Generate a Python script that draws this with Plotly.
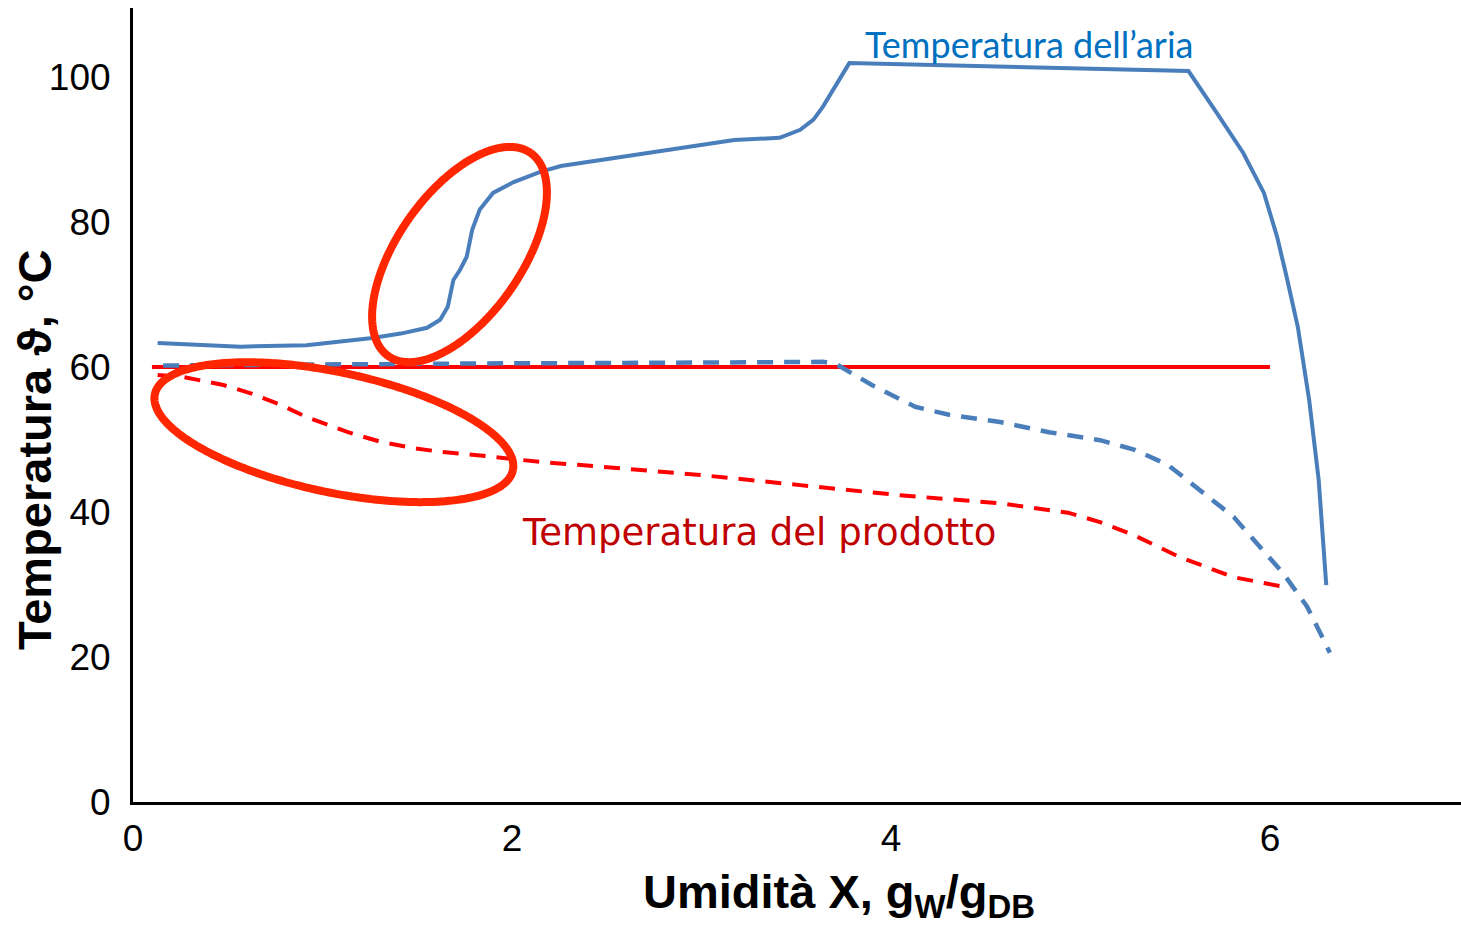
import numpy as np
import plotly.graph_objects as go

# ---- data ----
x_air = [0.13, 0.567, 0.915, 1.263, 1.413, 1.552, 1.621, 1.661, 1.691, 1.726, 1.761, 1.790,
         1.830, 1.900, 2.009, 2.149, 2.258, 2.726, 3.173, 3.412, 3.521, 3.591, 3.641, 3.780,
         5.570, 5.720, 5.859, 5.968, 6.038, 6.088, 6.147, 6.207, 6.257, 6.297]
T_air = [63.3, 62.8, 63.0, 64.0, 64.6, 65.4, 66.5, 68.3, 72.0, 73.4, 75.2, 78.9,
         81.7, 84.0, 85.5, 86.9, 87.7, 89.5, 91.3, 91.6, 92.7, 94.1, 95.9, 101.9,
         100.8, 95.0, 89.5, 84.0, 77.9, 72.4, 65.5, 55.4, 44.4, 29.9]

x_surf = [0.159, 0.995, 1.989, 2.984, 3.641, 3.710, 3.899, 4.128, 4.307, 4.576, 4.834, 5.103,
          5.282, 5.461, 5.580, 5.809, 6.068, 6.197, 6.316]
T_surf = [60.2, 60.4, 60.5, 60.6, 60.7, 60.4, 57.5, 54.5, 53.4, 52.4, 51.0, 49.9,
          48.6, 46.5, 44.1, 39.3, 31.6, 26.9, 20.6]

x_prod = [0.13, 0.269, 0.477, 0.617, 0.776, 0.915, 1.134, 1.303, 1.482, 1.621, 1.790, 2.149,
          2.348, 2.994, 3.521, 4.049, 4.576, 4.934, 5.103, 5.282, 5.521, 5.809, 6.108]
T_prod = [58.9, 58.6, 57.5, 56.4, 54.8, 53.1, 51.0, 49.7, 48.8, 48.3, 47.9, 46.9,
          46.5, 45.1, 43.7, 42.3, 41.2, 39.9, 38.6, 36.8, 33.8, 31.0, 29.5]

x_ref = [0.10, 6.0]
T_ref = [60.0, 60.0]

x_ticks = [0, 2, 4, 6]
y_ticks = [0, 20, 40, 60, 80, 100]

label_air = "Temperatura dell’aria"
label_prod = "Temperatura del prodotto"

# highlight ellipses: centre (data), semi-axes (px), rotation (deg)
ellipses = [
    dict(cx=1.723, cy=75.5, a=124, b=62, ang=55),
    dict(cx=1.060, cy=51.0, a=183, b=60, ang=-12),
]

# ---- layout geometry ----
W, H = 1461, 930
ML, MR, MT, MB = 133, 0, 8, 128
X_RANGE = [0, 7.008]
Y_RANGE = [0, 109.5]
px_x = (W - ML - MR) / (X_RANGE[1] - X_RANGE[0])
px_y = (H - MT - MB) / (Y_RANGE[1] - Y_RANGE[0])

BLUE = "#4A7EBB"
RED = "#FF0000"
ORANGE_RED = "#FF2600"

fig = go.Figure()
fig.add_trace(go.Scatter(x=x_ref, y=T_ref, mode="lines",
                         line=dict(color=RED, width=4), hoverinfo="skip"))
fig.add_trace(go.Scatter(x=x_surf, y=T_surf, mode="lines",
                         line=dict(color=BLUE, width=4.5, dash="16px,11px"), hoverinfo="skip"))
fig.add_trace(go.Scatter(x=x_prod, y=T_prod, mode="lines",
                         line=dict(color=RED, width=4, dash="16px,11px"), hoverinfo="skip"))
fig.add_trace(go.Scatter(x=x_air, y=T_air, mode="lines",
                         line=dict(color=BLUE, width=4), hoverinfo="skip"))

t = np.linspace(0, 2 * np.pi, 400)
for e in ellipses:
    th = np.deg2rad(e["ang"])
    dx = e["a"] * np.cos(t) * np.cos(th) - e["b"] * np.sin(t) * np.sin(th)
    dy = e["a"] * np.cos(t) * np.sin(th) + e["b"] * np.sin(t) * np.cos(th)
    fig.add_trace(go.Scatter(x=e["cx"] + dx / px_x, y=e["cy"] + dy / px_y, mode="lines",
                             line=dict(color=ORANGE_RED, width=8, simplify=False),
                             hoverinfo="skip"))

fig.add_annotation(x=4.733, y=104.6, text=label_air, showarrow=False,
                   font=dict(family="Lato", size=36, color="#0070C0"))
fig.add_annotation(x=3.303, y=37.1, text=label_prod, showarrow=False,
                   font=dict(family="DejaVu Sans", size=37, color="#C00000"))

# axis titles
fig.add_annotation(xref="paper", yref="paper", x=(839 - ML) / (W - ML - MR),
                   y=-(895 - (H - MB)) / (H - MT - MB),
                   text="<b>Umidità X, g<sub>W</sub>/g<sub>DB</sub></b>", showarrow=False,
                   font=dict(family="Liberation Sans", size=47, color="black"),
                   xanchor="center", yanchor="middle")
fig.add_annotation(xref="paper", yref="paper", x=-(ML - 34) / (W - ML - MR),
                   y=((H - MB) - 450) / (H - MT - MB),
                   text="<b>Temperatura ϑ, °C</b>", showarrow=False, textangle=-90,
                   font=dict(family="Liberation Sans", size=47, color="black"),
                   xanchor="center", yanchor="middle")

# small axis overhangs at the origin
fig.add_shape(type="line", xref="x", yref="y", x0=0, x1=0, ysizemode="pixel", yanchor=0,
              y0=0, y1=-10, line=dict(color="black", width=3))
fig.add_shape(type="line", xref="x", yref="y", y0=0, y1=0, xsizemode="pixel", xanchor=0,
              x0=-6, x1=0, line=dict(color="black", width=3))

fig.update_layout(
    width=W, height=H, showlegend=False,
    plot_bgcolor="white", paper_bgcolor="white",
    margin=dict(l=ML, r=MR, t=MT, b=MB, pad=0),
    xaxis=dict(range=X_RANGE, tickvals=x_ticks, showgrid=False, zeroline=False,
               showline=True, linecolor="black", linewidth=3, ticks="",
               ticklabelstandoff=2,
               tickfont=dict(family="Liberation Sans", size=37, color="black")),
    yaxis=dict(range=Y_RANGE, tickvals=y_ticks, showgrid=False, zeroline=False,
               showline=True, linecolor="black", linewidth=3, ticks="",
               ticklabelstandoff=12,
               tickfont=dict(family="Liberation Sans", size=37, color="black")),
)

fig.write_html("out.html", config={"displayModeBar": False},
               post_script="document.body.style.margin='0';document.body.style.overflow='hidden';")
